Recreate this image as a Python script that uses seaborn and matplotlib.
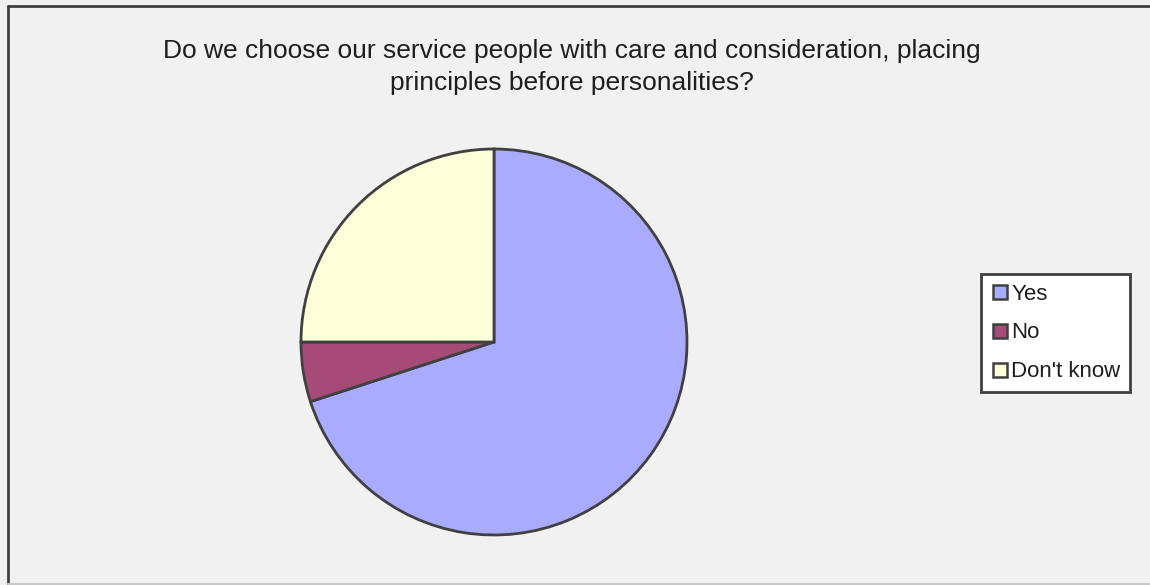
import matplotlib
matplotlib.use("Agg")
import matplotlib.pyplot as plt
from matplotlib.lines import Line2D
import seaborn as sns

categories = ["Yes", "No", "Don't know"]
values = [70, 5, 25]
colors = ["#A9ABFF", "#A64B78", "#FFFFD9"]

sns.set_theme(style="white")
plt.rcParams["font.family"] = ["Liberation Sans", "DejaVu Sans"]

bg = "#F1F1F1"
edge = "#404040"

fig = plt.figure(figsize=(11.5, 5.85), dpi=100)
fig.patch.set_facecolor(bg)

# outer frame (left and top edges visible)
fig.add_artist(Line2D([7.5 / 1150, 7.5 / 1150], [0, 1 - 5.5 / 585], color=edge, lw=2))
fig.add_artist(Line2D([7.5 / 1150, 1], [1 - 5.5 / 585, 1 - 5.5 / 585], color=edge, lw=2))
fig.add_artist(Line2D([7.5 / 1150, 1], [1.5 / 585, 1.5 / 585], color="#C8C8C8", lw=1.5))

cx, cy, r = 494, 342, 193
ax = fig.add_axes([(cx - r) / 1150, (585 - cy - r) / 585, 2 * r / 1150, 2 * r / 585])
ax.set_facecolor(bg)
wedges, _ = ax.pie(values, colors=colors, startangle=90, counterclock=False,
                   wedgeprops=dict(edgecolor=edge, linewidth=2))
ax.set_xlim(-1.0, 1.0)
ax.set_ylim(-1.0, 1.0)
ax.set_axis_off()

fig.text(572 / 1150, 1 - 67 / 585,
         "Do we choose our service people with care and consideration, placing\nprinciples before personalities?",
         ha="center", va="center", fontsize=19, color="#1E1E1E", linespacing=1.42)

handles = [Line2D([], [], marker="s", linestyle="none", markersize=10,
                  markerfacecolor=c, markeredgecolor=edge, markeredgewidth=1.8)
           for c in colors]
leg = fig.legend(handles, categories, loc="center", bbox_to_anchor=(1055.5 / 1150, 1 - 333 / 585),
                 frameon=True, fancybox=False, fontsize=16, handlelength=0.9,
                 handletextpad=0.05, labelspacing=0.8, borderpad=0.42, labelcolor="#1E1E1E")
leg.get_frame().set_edgecolor(edge)
leg.get_frame().set_linewidth(2)
leg.get_frame().set_facecolor("white")
leg.get_frame().set_alpha(1)

fig.savefig("out.png", dpi=100, facecolor=bg)
